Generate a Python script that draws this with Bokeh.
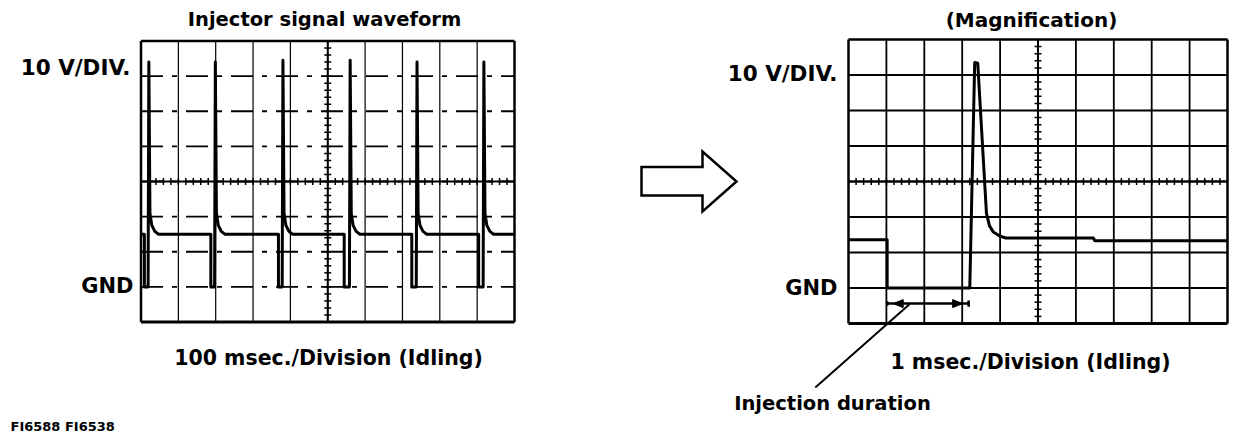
from bokeh.plotting import figure
from bokeh.layouts import row
from bokeh.models import Range1d
from bokeh.core.properties import value
from bokeh.embed import file_html
from bokeh.resources import INLINE

# ---------------- data ----------------
# Left scope: 100 ms/division, 10 V/division, GND one division above the bottom
left_time_ms = [0, 9, 9, 19, 21, 24, 29, 37, 47,
                187, 187, 197, 199, 202, 207, 215, 225,
                368, 368, 378, 380, 383, 388, 396, 406,
                544, 544, 558, 560, 563, 568, 576, 586,
                725, 725, 737, 739, 742, 747, 755, 765,
                904, 904, 916, 918, 921, 926, 934, 944,
                1000]
left_volts = [15, 15, 0, 0, 64, 21, 17.5, 15.8, 15,
              15, 0, 0, 64, 21, 17.5, 15.8, 15,
              15, 0, 0, 64.5, 21, 17.5, 15.8, 15,
              15, 0, 0, 64.5, 21, 17.5, 15.8, 15,
              15, 0, 0, 64, 21, 17.5, 15.8, 15,
              15, 0, 0, 64, 21, 17.5, 15.8, 15,
              15]

# Right scope (magnification): 1 ms/division
right_time_ms = [0, 1.02, 1.02, 3.20, 3.33, 3.41, 3.64, 3.72, 3.82, 4.00, 4.15, 6.46, 6.50, 10]
right_volts = [13.6, 13.6, 0, 0, 63.5, 63.3, 21, 17.5, 15.8, 14.6, 14.1, 14.1, 13.3, 13.3]

# injection duration marker (ms) and its level (V)
duration_ms = [1.02, 3.17]
duration_v = -4.4

# graticule
left_div_ms = [0, 100, 200, 300, 400, 500, 600, 700, 800, 900, 1000]
right_div_ms = [0, 1, 2, 3, 4, 5, 6, 7, 8, 9, 10]
div_volts = [-10, 0, 10, 20, 30, 40, 50, 60, 70]

FONT = value("DejaVu Sans")
BLACK = "#000000"
PAGE = 0


def make_panel(width, height, origin_x, frame, xdom, ydom):
    """frame = (left, top, right, bottom) of the scope screen in picture pixels."""
    l, t, r, b = frame
    l -= origin_x
    r -= origin_x
    t -= PAGE
    b -= PAGE
    sx = (r - l) / (xdom[1] - xdom[0])
    sy = (b - t) / (ydom[1] - ydom[0])
    x0 = xdom[0] - l / sx
    x1 = xdom[0] + (width - l) / sx
    y1 = ydom[1] + t / sy
    y0 = ydom[1] - (height - t) / sy
    p = figure(width=width, height=height,
               x_range=Range1d(x0, x1), y_range=Range1d(y0, y1),
               output_backend="svg", toolbar_location=None,
               x_axis_location=None, y_axis_location=None,
               min_border=0, min_border_left=0, min_border_right=0,
               min_border_top=0, min_border_bottom=0,
               background_fill_color="white", border_fill_color="white")
    p.outline_line_color = None
    p.xgrid.visible = False
    p.ygrid.visible = False

    def to_data(xr, yr):
        return (xdom[0] + (xr - origin_x - l) / sx,
                ydom[1] - (yr - PAGE - t) / sy)
    return p, to_data, sx, sy


def graticule(p, xs, ys, sx, sy, vdash, hdash, vw, hw, tick_step):
    xmin, xmax = xs[0], xs[-1]
    ymin, ymax = ys[0], ys[-1]
    xmid = (xmin + xmax) / 2
    ymid = (ymin + ymax) / 2
    inner_x = xs[1:-1]
    inner_y = ys[1:-1]
    p.segment(x0=inner_x, y0=[ymin] * len(inner_x), x1=inner_x, y1=[ymax] * len(inner_x),
              line_color=BLACK, line_width=vw, line_dash=vdash)
    p.segment(x0=[xmin] * len(inner_y), y0=inner_y, x1=[xmax] * len(inner_y), y1=inner_y,
              line_color=BLACK, line_width=hw, line_dash=hdash)
    # centre crosshair
    p.segment(x0=[xmid, xmin], y0=[ymin, ymid], x1=[xmid, xmax], y1=[ymax, ymid],
              line_color=BLACK, line_width=2)
    # small ticks on crosshair (1/5 division)
    n = int(round((xmax - xmin) / tick_step))
    tx = [xmin + i * tick_step for i in range(1, n)]
    hv = 3.5 / sy
    p.segment(x0=tx, y0=[ymid - hv] * len(tx), x1=tx, y1=[ymid + hv] * len(tx),
              line_color=BLACK, line_width=1.5)
    ystep = (ys[1] - ys[0]) / 5
    m = int(round((ymax - ymin) / ystep))
    ty = [ymin + i * ystep for i in range(1, m)]
    hx = 3.5 / sx
    p.segment(x0=[xmid - hx] * len(ty), y0=ty, x1=[xmid + hx] * len(ty), y1=ty,
              line_color=BLACK, line_width=1.5)
    # frame
    p.segment(x0=[xmin, xmax, xmin], y0=[ymin, ymin, ymax], x1=[xmin, xmax, xmax], y1=[ymax, ymax, ymax],
              line_color=BLACK, line_width=2.5)
    p.segment(x0=[xmin], y0=[ymin], x1=[xmax], y1=[ymin], line_color=BLACK, line_width=3.2)


def label(p, to_data, xr, yr, txt, size, align="center", bold=True):
    x, y = to_data(xr, yr)
    p.text(x=[x], y=[y], text=[txt], text_font=FONT, text_font_size=size,
           text_align=align, text_baseline="middle", text_color=BLACK,
           text_font_style="bold" if bold else "normal")


H = 440
WL = 624
WR = 624

# ---------------- left panel ----------------
pl, tl, sxl, syl = make_panel(WL, H, PAGE, (140.5, 40.5, 514, 321.5), (0, 1000), (-10, 70))
graticule(pl, left_div_ms, div_volts, sxl, syl, "solid", "22 9 5 9", 1.2, 1.8, 20)
pl.line(left_time_ms, left_volts, line_color=BLACK, line_width=3, line_join="round")
label(pl, tl, 324, 19, "Injector signal waveform", "19.5px")
label(pl, tl, 130, 66.5, "10 V/DIV.", "21.5px", align="right")
label(pl, tl, 133, 285, "GND", "21px", align="right")
label(pl, tl, 328, 357, "100 msec./Division (Idling)", "20.5px")
label(pl, tl, 10, 426, "FI6588 FI6538", "13px", align="left")

# ---------------- right panel ----------------
RX = PAGE + WL
pr, tr, sxr, syr = make_panel(WR, H, RX, (848, 39, 1227, 323), (0, 10), (-10, 70))
graticule(pr, right_div_ms, div_volts, sxr, syr, "solid", "solid", 1.8, 2, 0.2)
pr.line(right_time_ms, right_volts, line_color=BLACK, line_width=3, line_join="round")

# injection duration dimension
pr.segment(x0=[duration_ms[0]], y0=[duration_v], x1=[duration_ms[1]], y1=[duration_v],
           line_color=BLACK, line_width=2.5)
bar = 7 / syr
pr.segment(x0=duration_ms, y0=[duration_v + bar * 0.35, duration_v + bar * 0.45],
           x1=duration_ms, y1=[duration_v - bar * 0.3, duration_v - bar * 0.45],
           line_color=BLACK, line_width=2.5)
ah = 4 / syr
al = 10 / sxr
lt = duration_ms[0] + 6 / sxr
rt = duration_ms[1] - 6 / sxr
pr.patches(xs=[[lt, lt + al, lt + al], [rt, rt - al, rt - al]],
           ys=[[duration_v, duration_v + ah, duration_v - ah], [duration_v, duration_v + ah, duration_v - ah]],
           fill_color=BLACK, line_color=BLACK)

# leader line to label
la = tr(909, 303.7)
lb = tr(814.8, 387)
pr.segment(x0=[la[0]], y0=[la[1]], x1=[lb[0]], y1=[lb[1]], line_color=BLACK, line_width=2)
label(pr, tr, 832, 403, "Injection duration", "19.5px")

label(pr, tr, 1031, 19, "(Magnification)", "20px")
label(pr, tr, 837, 73, "10 V/DIV.", "21.5px", align="right")
label(pr, tr, 837, 287, "GND", "21px", align="right")
label(pr, tr, 1030, 361, "1 msec./Division (Idling)", "20.5px")

# hollow arrow between the panels
arrow_px = [(641, 166.5), (702, 166.5), (702, 151), (736, 181), (702, 211), (702, 195), (641, 195)]
apts = [tr(x, y) for x, y in arrow_px]
pr.patch(x=[a[0] for a in apts], y=[a[1] for a in apts], fill_color="white",
         line_color=BLACK, line_width=2.5, line_join="miter")

layout = row(pl, pr)
open("out.html", "w").write(file_html(layout, INLINE))
